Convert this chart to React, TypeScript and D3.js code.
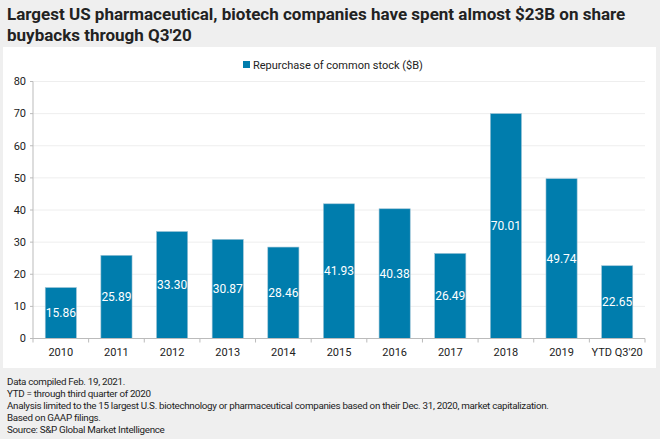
import React from 'react';
import * as d3 from 'd3';

const categories = ['2010', '2011', '2012', '2013', '2014', '2015', '2016', '2017', '2018', '2019', "YTD Q3'20"];
const buybacks = [15.86, 25.89, 33.3, 30.87, 28.46, 41.93, 40.38, 26.49, 70.01, 49.74, 22.65];
const yTicks = [0, 10, 20, 30, 40, 50, 60, 70, 80];
const titleLines = [
    'Largest US pharmaceutical, biotech companies have spent almost $23B on share',
    "buybacks through Q3'20",
];
const footnotes = [
    'Data compiled Feb. 19, 2021.',
    'YTD = through third quarter of 2020',
    'Analysis limited to the 15 largest U.S. biotechnology or pharmaceutical companies based on their Dec. 31, 2020, market capitalization.',
    'Based on GAAP filings.',
    'Source: S&P Global Market Intelligence',
];
const legendLabel = 'Repurchase of common stock ($B)';

const W = 660;
const H = 439;
const FONT = "'Roboto', 'Liberation Sans', sans-serif";
const BAR = '#007dad';

const App: React.FC = () => {
    const plot = { left: 33, right: 645, top: 81.5, bottom: 338.5 };

    const x = d3.scaleBand()
        .domain(categories)
        .range([plot.left, plot.right])
        .paddingInner(0.44)
        .paddingOuter(0.22);

    const y = d3.scaleLinear()
        .domain([0, 80])
        .range([plot.bottom, plot.top]);

    const step = x.step();

    return (
        <svg width={W} height={H} style={{ position: 'absolute', left: 0, top: 0 }} fontFamily={FONT}>
            <rect x={0} y={0} width={W} height={H} fill="#efefef" />
            <rect x={3} y={47} width={653} height={321} fill="#ffffff" />

            {titleLines.map((t, i) => (
                <text key={t} x={7} y={20 + i * 21} fontSize={17} fontWeight="bold" fill="#222">{t}</text>
            ))}

            {/* legend */}
            <rect x={243} y={61} width={7} height={7} fill={BAR} />
            <text x={253} y={68.5} fontSize={11} fill="#222">{legendLabel}</text>

            {/* gridlines */}
            {yTicks.filter((t) => t > 0).map((t) => (
                <line key={t} x1={plot.left} x2={plot.right} y1={y(t)} y2={y(t)} stroke="#eeeeee" strokeWidth={1} />
            ))}

            {/* y axis */}
            <line x1={plot.left} x2={plot.left} y1={plot.top} y2={plot.bottom} stroke="#bbbbbb" />
            {yTicks.map((t) => (
                <g key={t}>
                    <line x1={plot.left - 3} x2={plot.left} y1={y(t)} y2={y(t)} stroke="#bbbbbb" />
                    <text x={26} y={y(t)} dy="0.35em" textAnchor="end" fontSize={11} fill="#222">{t}</text>
                </g>
            ))}

            {/* bars */}
            {categories.map((c, i) => {
                const bx = x(c) || 0;
                const top = y(buybacks[i]);
                return (
                    <g key={c}>
                        <rect x={bx} y={top} width={x.bandwidth()} height={plot.bottom - top} fill={BAR} stroke="#9cc3d6" strokeWidth={0.6} />
                        <text x={bx + x.bandwidth() / 2} y={(top + plot.bottom) / 2} dy="0.35em" textAnchor="middle" fontSize={12} fill="#ffffff">
                            {buybacks[i].toFixed(2)}
                        </text>
                    </g>
                );
            })}

            {/* x axis */}
            <line x1={plot.left} x2={plot.right} y1={plot.bottom} y2={plot.bottom} stroke="#bbbbbb" strokeWidth={1.2} />
            {d3.range(categories.length + 1).map((i) => {
                const bx = plot.left + i * step;
                return <line key={i} x1={bx} x2={bx} y1={plot.bottom} y2={plot.bottom + 4} stroke="#bbbbbb" />;
            })}
            {categories.map((c) => (
                <text key={c} x={(x(c) || 0) + x.bandwidth() / 2} y={352} dy="0.35em" textAnchor="middle" fontSize={11} fill="#222">{c}</text>
            ))}

            {/* footnotes */}
            {footnotes.map((f, i) => (
                <text key={f} x={7} y={385 + i * 12} fontSize={9.8} letterSpacing={-0.3} fill="#222">{f}</text>
            ))}
        </svg>
    );
};

export default App;
